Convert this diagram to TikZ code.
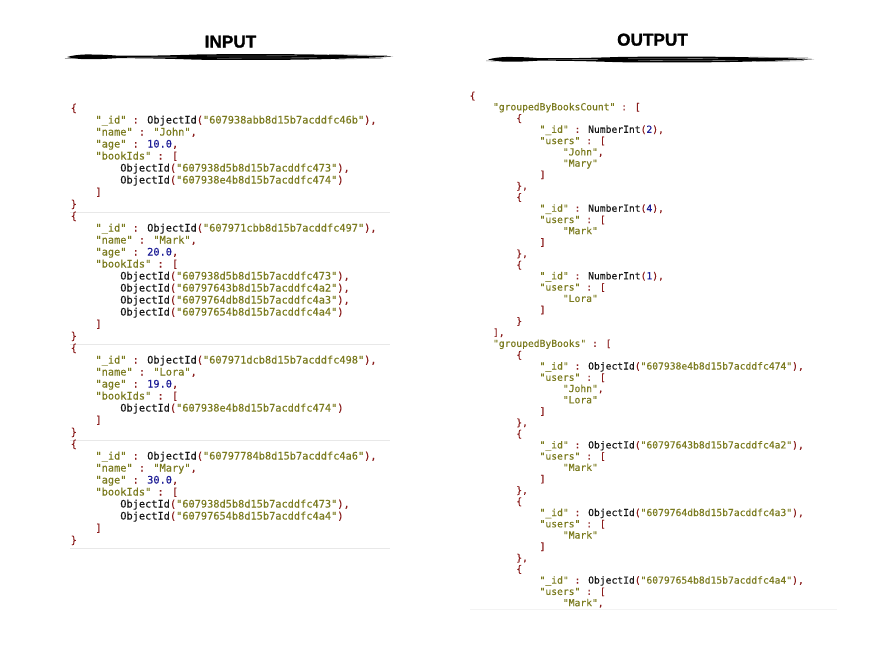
\documentclass[tikz,border=0pt]{standalone}
\usepackage{fontspec}
\usepackage{tikz}
\usetikzlibrary{positioning}
\newfontfamily\codefont{DejaVu Sans Mono}[FakeBold=0.35]
\newfontfamily\headfont{Liberation Sans Bold}[FakeBold=1.4]
\definecolor{strcol}{RGB}{122,122,30}
\definecolor{puncol}{RGB}{138,28,28}
\definecolor{numcol}{RGB}{30,30,150}
\definecolor{plaincol}{RGB}{22,22,22}
\definecolor{sepcol}{RGB}{232,232,232}
\newcommand{\kw}[1]{\textcolor{strcol}{#1}}
\newcommand{\pc}[1]{\textcolor{puncol}{#1}}
\newcommand{\nm}[1]{\textcolor{numcol}{#1}}
\newcommand{\jkey}[1]{\kw{"#1"} \pc{:}}
\newcommand{\oid}[1]{ObjectId\pc{(}\kw{"#1"}\pc{)}}
\newcommand{\nint}[1]{NumberInt\pc{(}\nm{#1}\pc{)}}
\tikzset{
    codein/.style={anchor=base west, inner sep=0pt, text=plaincol,
        font=\codefont\fontsize{10.3}{12}\selectfont},
    codeout/.style={anchor=base west, inner sep=0pt, text=plaincol,
        font=\codefont\fontsize{9.68}{11.3}\selectfont},
    heading/.style={inner sep=0pt, font=\headfont\fontsize{17.2}{17}\selectfont},
    brush/.style={fill=black},
    brushfray/.style={draw=black!55, line width=0.5pt},
    brushstreak/.style={draw=white, line width=0.3pt, opacity=0.7},
    sepline/.style={draw=sepcol, line width=0.8pt},
}
% one brush stroke under a heading, starting at (#1,#2)
\newcommand{\brushline}[2]{%
\begin{scope}[shift={(#1,#2)}]
\fill[brush] (0,0) .. controls (5,-1.4) and (10,-2.2) .. (18,-2.5)
    .. controls (30,-2.6) and (40,-2.2) .. (50,-1.4)
    .. controls (70,-1.0) and (100,-1.5) .. (130,-2.5)
    .. controls (180,-3.3) and (240,-2.9) .. (270,-2.0)
    .. controls (295,-1.4) and (315,-0.9) .. (326,-0.4)
    .. controls (315,0.4) and (295,1.0) .. (270,1.8)
    .. controls (240,2.9) and (180,3.3) .. (130,2.7)
    .. controls (100,1.6) and (70,1.1) .. (50,1.2)
    .. controls (40,1.8) and (30,2.4) .. (18,2.2)
    .. controls (10,2.0) and (5,1.1) .. (0,0) -- cycle;
\draw[brushfray] (-2,1.4) -- (8,1.6);
\draw[brushfray] (262,-2.5) -- (320,-1.5);
\draw[brushfray] (268,2.2) -- (316,1.2);
\draw[brushstreak] (140,-0.9) -- (230,-1.2);
\draw[brushstreak] (150,1.2) -- (250,0.8);
\draw[brushstreak] (60,0.2) -- (110,0.1);
\end{scope}}

\begin{document}
\begin{tikzpicture}[x=1pt,y=-1pt]
\useasboundingbox (0,0) rectangle (875,650);

% headings
\node[heading] (intitle) at (230.5,41.7) {INPUT};
\node[heading] (outtitle) at (652.5,39.7) {OUTPUT};
\brushline{67}{57}
\brushline{488}{59.5}

% input documents
\node[codein] (in1) at (70.5,111.5) {\pc{\{}};
\node[codein] (in2) at (95.3,123.5) {\jkey{\_id} \oid{607938abb8d15b7acddfc46b}\pc{,}};
\node[codein] (in3) at (95.3,135.5) {\jkey{name} \kw{"John"}\pc{,}};
\node[codein] (in4) at (95.3,147.5) {\jkey{age} \nm{10.0}\pc{,}};
\node[codein] (in5) at (95.3,159.5) {\jkey{bookIds} \pc{[}};
\node[codein] (in6) at (120.1,171.5) {\oid{607938d5b8d15b7acddfc473}\pc{,}};
\node[codein] (in7) at (120.1,183.5) {\oid{607938e4b8d15b7acddfc474}};
\node[codein] (in8) at (95.3,195.5) {\pc{]}};
\node[codein] (in9) at (70.5,207.5) {\pc{\}}};
\draw[sepline] (70,212) -- (390,212);

\node[codein] (in10) at (70.5,219.5) {\pc{\{}};
\node[codein] (in11) at (95.3,231.5) {\jkey{\_id} \oid{607971cbb8d15b7acddfc497}\pc{,}};
\node[codein] (in12) at (95.3,243.5) {\jkey{name} \kw{"Mark"}\pc{,}};
\node[codein] (in13) at (95.3,255.5) {\jkey{age} \nm{20.0}\pc{,}};
\node[codein] (in14) at (95.3,267.5) {\jkey{bookIds} \pc{[}};
\node[codein] (in15) at (120.1,279.5) {\oid{607938d5b8d15b7acddfc473}\pc{,}};
\node[codein] (in16) at (120.1,291.5) {\oid{60797643b8d15b7acddfc4a2}\pc{,}};
\node[codein] (in17) at (120.1,303.5) {\oid{6079764db8d15b7acddfc4a3}\pc{,}};
\node[codein] (in18) at (120.1,315.5) {\oid{60797654b8d15b7acddfc4a4}};
\node[codein] (in19) at (95.3,327.5) {\pc{]}};
\node[codein] (in20) at (70.5,339.5) {\pc{\}}};
\draw[sepline] (70,344) -- (390,344);

\node[codein] (in21) at (70.5,351.5) {\pc{\{}};
\node[codein] (in22) at (95.3,363.5) {\jkey{\_id} \oid{607971dcb8d15b7acddfc498}\pc{,}};
\node[codein] (in23) at (95.3,375.5) {\jkey{name} \kw{"Lora"}\pc{,}};
\node[codein] (in24) at (95.3,387.5) {\jkey{age} \nm{19.0}\pc{,}};
\node[codein] (in25) at (95.3,399.5) {\jkey{bookIds} \pc{[}};
\node[codein] (in26) at (120.1,411.5) {\oid{607938e4b8d15b7acddfc474}};
\node[codein] (in27) at (95.3,423.5) {\pc{]}};
\node[codein] (in28) at (70.5,435.5) {\pc{\}}};
\draw[sepline] (70,440) -- (390,440);

\node[codein] (in29) at (70.5,447.5) {\pc{\{}};
\node[codein] (in30) at (95.3,459.5) {\jkey{\_id} \oid{60797784b8d15b7acddfc4a6}\pc{,}};
\node[codein] (in31) at (95.3,471.5) {\jkey{name} \kw{"Mary"}\pc{,}};
\node[codein] (in32) at (95.3,483.5) {\jkey{age} \nm{30.0}\pc{,}};
\node[codein] (in33) at (95.3,495.5) {\jkey{bookIds} \pc{[}};
\node[codein] (in34) at (120.1,507.5) {\oid{607938d5b8d15b7acddfc473}\pc{,}};
\node[codein] (in35) at (120.1,519.5) {\oid{60797654b8d15b7acddfc4a4}};
\node[codein] (in36) at (95.3,531.5) {\pc{]}};
\node[codein] (in37) at (70.5,543.5) {\pc{\}}};
\draw[sepline] (70,548) -- (390,548);

% output document
\node[codeout] (out1) at (469.5,99.0) {\pc{\{}};
\node[codeout] (out2) at (492.8,110.3) {\jkey{groupedByBooksCount} \pc{[}};
\node[codeout] (out3) at (516.1,121.5) {\pc{\{}};
\node[codeout] (out4) at (539.4,132.8) {\jkey{\_id} \nint{2}\pc{,}};
\node[codeout] (out5) at (539.4,144.1) {\jkey{users} \pc{[}};
\node[codeout] (out6) at (562.7,155.4) {\kw{"John"}\pc{,}};
\node[codeout] (out7) at (562.7,166.6) {\kw{"Mary"}};
\node[codeout] (out8) at (539.4,177.9) {\pc{]}};
\node[codeout] (out9) at (516.1,189.2) {\pc{\},}};
\node[codeout] (out10) at (516.1,200.4) {\pc{\{}};
\node[codeout] (out11) at (539.4,211.7) {\jkey{\_id} \nint{4}\pc{,}};
\node[codeout] (out12) at (539.4,223.0) {\jkey{users} \pc{[}};
\node[codeout] (out13) at (562.7,234.2) {\kw{"Mark"}};
\node[codeout] (out14) at (539.4,245.5) {\pc{]}};
\node[codeout] (out15) at (516.1,256.8) {\pc{\},}};
\node[codeout] (out16) at (516.1,268.1) {\pc{\{}};
\node[codeout] (out17) at (539.4,279.3) {\jkey{\_id} \nint{1}\pc{,}};
\node[codeout] (out18) at (539.4,290.6) {\jkey{users} \pc{[}};
\node[codeout] (out19) at (562.7,301.9) {\kw{"Lora"}};
\node[codeout] (out20) at (539.4,313.1) {\pc{]}};
\node[codeout] (out21) at (516.1,324.4) {\pc{\}}};
\node[codeout] (out22) at (492.8,335.7) {\pc{],}};
\node[codeout] (out23) at (492.8,346.9) {\jkey{groupedByBooks} \pc{[}};
\node[codeout] (out24) at (516.1,358.2) {\pc{\{}};
\node[codeout] (out25) at (539.4,369.5) {\jkey{\_id} \oid{607938e4b8d15b7acddfc474}\pc{,}};
\node[codeout] (out26) at (539.4,380.8) {\jkey{users} \pc{[}};
\node[codeout] (out27) at (562.7,392.0) {\kw{"John"}\pc{,}};
\node[codeout] (out28) at (562.7,403.3) {\kw{"Lora"}};
\node[codeout] (out29) at (539.4,414.6) {\pc{]}};
\node[codeout] (out30) at (516.1,425.8) {\pc{\},}};
\node[codeout] (out31) at (516.1,437.1) {\pc{\{}};
\node[codeout] (out32) at (539.4,448.4) {\jkey{\_id} \oid{60797643b8d15b7acddfc4a2}\pc{,}};
\node[codeout] (out33) at (539.4,459.6) {\jkey{users} \pc{[}};
\node[codeout] (out34) at (562.7,470.9) {\kw{"Mark"}};
\node[codeout] (out35) at (539.4,482.2) {\pc{]}};
\node[codeout] (out36) at (516.1,493.5) {\pc{\},}};
\node[codeout] (out37) at (516.1,504.7) {\pc{\{}};
\node[codeout] (out38) at (539.4,516.0) {\jkey{\_id} \oid{6079764db8d15b7acddfc4a3}\pc{,}};
\node[codeout] (out39) at (539.4,527.3) {\jkey{users} \pc{[}};
\node[codeout] (out40) at (562.7,538.5) {\kw{"Mark"}};
\node[codeout] (out41) at (539.4,549.8) {\pc{]}};
\node[codeout] (out42) at (516.1,561.1) {\pc{\},}};
\node[codeout] (out43) at (516.1,572.3) {\pc{\{}};
\node[codeout] (out44) at (539.4,583.6) {\jkey{\_id} \oid{60797654b8d15b7acddfc4a4}\pc{,}};
\node[codeout] (out45) at (539.4,594.9) {\jkey{users} \pc{[}};
\node[codeout] (out46) at (562.7,606.2) {\kw{"Mark"}\pc{,}};
\draw[sepline, draw=sepcol!50] (470,609.5) -- (837,609.5);
\end{tikzpicture}
\end{document}
